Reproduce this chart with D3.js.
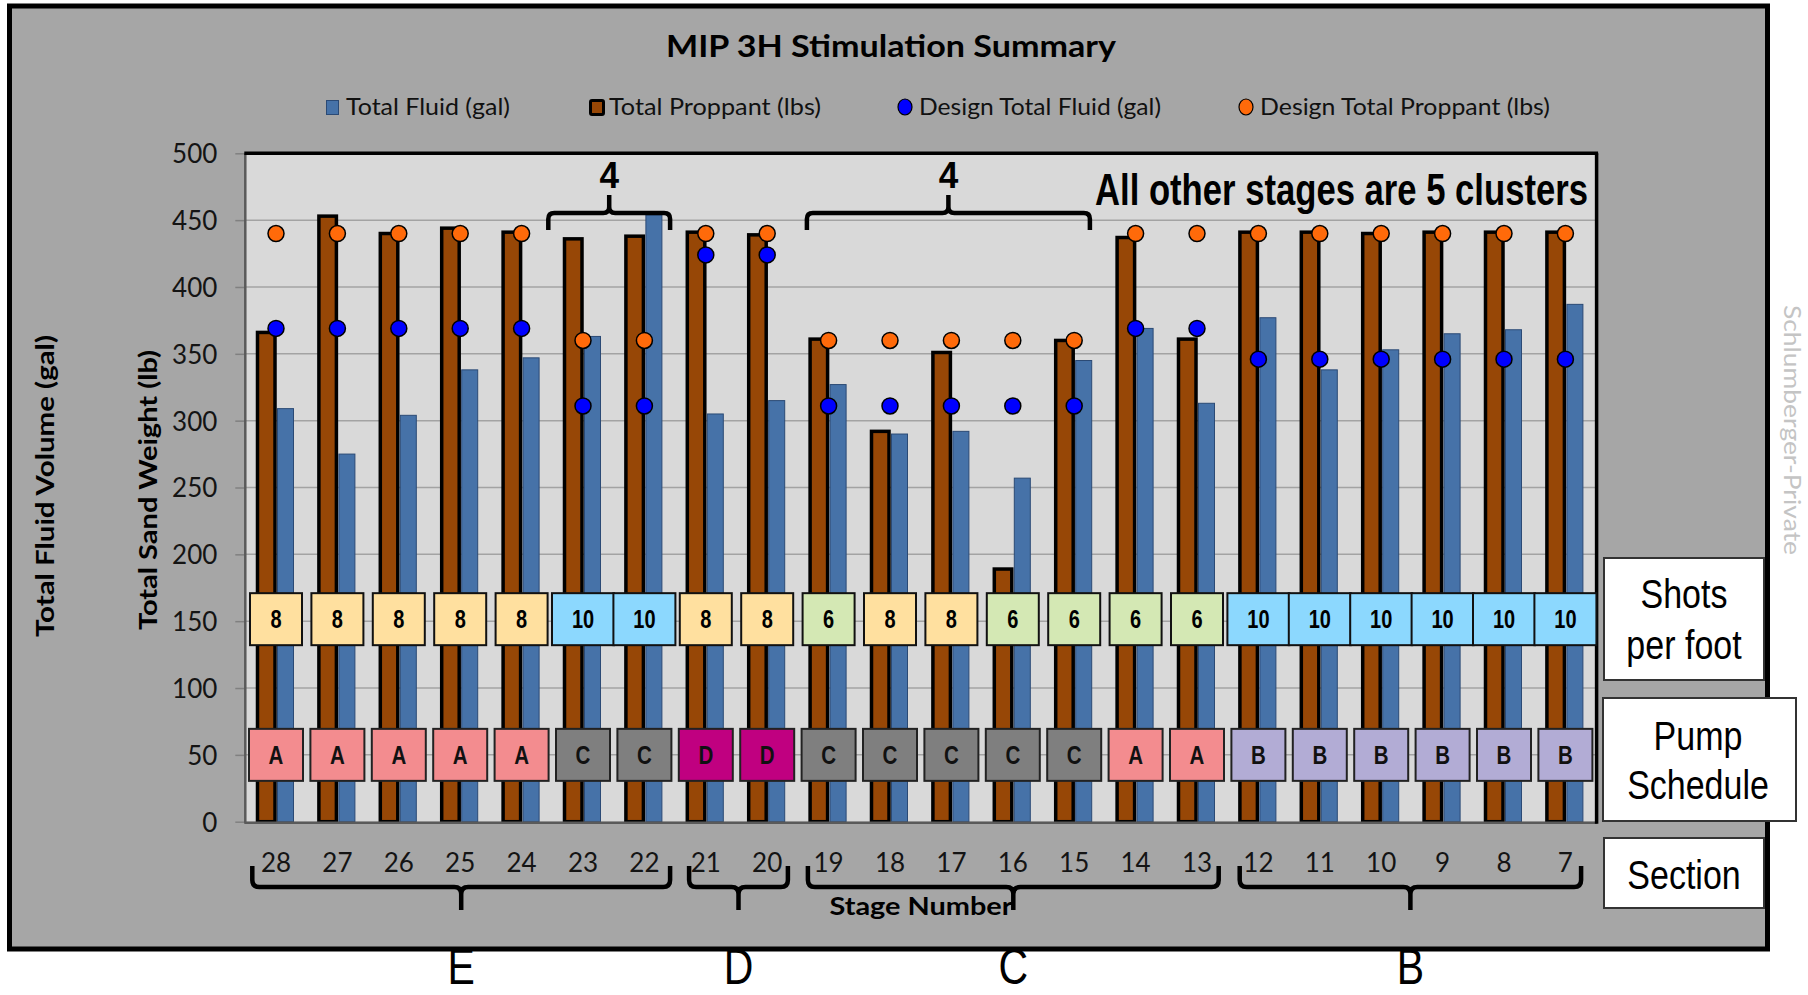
<!DOCTYPE html>
<html>
<head>
<meta charset="utf-8">
<script src="https://cdn.jsdelivr.net/npm/d3@7"></script>
<style>
  html, body { margin: 0; padding: 0; background: #ffffff; }
  svg { display: block; }
</style>
</head>
<body>
<svg id="chart" width="1808" height="995"></svg>
<script>
// ---------------- DATA ----------------
const stages = [28, 27, 26, 25, 24, 23, 22, 21, 20, 19, 18, 17, 16, 15, 14, 13, 12, 11, 10, 9, 8, 7];
const totalFluid = [309, 275, 304, 338, 347, 363, 454, 305, 315, 327, 290, 292, 257, 345, 369, 313, 377, 338, 353, 365, 368, 387];
const totalProppant = [366, 453, 440, 444, 441, 436, 438, 441, 439, 361, 292, 351, 189, 360, 437, 361, 441, 441, 440, 441, 441, 441];
const designFluid = [369, 369, 369, 369, 369, 311, 311, 424, 424, 311, 311, 311, 311, 311, 369, 369, 346, 346, 346, 346, 346, 346];
const designProppant = [440, 440, 440, 440, 440, 360, 360, 440, 440, 360, 360, 360, 360, 360, 440, 440, 440, 440, 440, 440, 440, 440];
const shotsPerFoot = [8, 8, 8, 8, 8, 10, 10, 8, 8, 6, 8, 8, 6, 6, 6, 6, 10, 10, 10, 10, 10, 10];
const pumpSchedule = ["A", "A", "A", "A", "A", "C", "C", "D", "D", "C", "C", "C", "C", "C", "A", "A", "B", "B", "B", "B", "B", "B"];
const sections = [
  { name: "E", from: 28, to: 22 },
  { name: "D", from: 21, to: 20 },
  { name: "C", from: 19, to: 13 },
  { name: "B", from: 12, to: 7 }
];
const clusterNotes = [
  { label: "4", from: 23, to: 22 },
  { label: "4", from: 19, to: 15 }
];
const yTicks = [0, 50, 100, 150, 200, 250, 300, 350, 400, 450, 500];
const seriesNames = ["Total Fluid (gal)", "Total Proppant (lbs)", "Design Total Fluid (gal)", "Design Total Proppant (lbs)"];
const titleText = "MIP 3H Stimulation Summary";
const noteText = "All other stages are 5 clusters";

// ---------------- STYLE ----------------
const C = {
  panel: "#a6a6a6", plot: "#d9d9d9", grid: "#a3a3a3",
  fluid: "#4672a8", fluidStroke: "#2b4a75",
  prop: "#974706", dotFluid: "#0000ff", dotProp: "#ff6a0a"
};
const shotColor = { 8: "#ffe09f", 10: "#8cd8fe", 6: "#d4e8b4" };
const pumpColor = { A: "#f38c8f", B: "#b2acd5", C: "#7f7f7f", D: "#c00080" };
const SANS = "Lato, 'Open Sans', sans-serif";
const ARIAL = "'Liberation Sans', Arial, sans-serif";

const svg = d3.select("#chart");

// condensed text helper (horizontal squeeze to mimic a narrow face)
function narrowText(parent, tx, ty, str, size, weight, sx) {
  return parent.append("text")
    .attr("transform", `translate(${tx},${ty}) scale(${sx},1)`)
    .attr("text-anchor", "middle").attr("font-family", ARIAL)
    .attr("font-weight", weight).attr("font-size", size).attr("fill", "#000").text(str);
}

// panel
svg.append("rect").attr("x", 9.5).attr("y", 6).attr("width", 1758).attr("height", 943)
  .attr("fill", C.panel).attr("stroke", "#000").attr("stroke-width", 5);

// title
svg.append("text").attr("x", 891).attr("y", 57).attr("text-anchor", "middle")
  .attr("font-family", SANS).attr("font-weight", "bold").attr("font-size", 30)
  .attr("textLength", 450).attr("lengthAdjust", "spacingAndGlyphs")
  .text(titleText);

// legend
const legendItems = [
  { name: seriesNames[0], type: "sq", fill: C.fluid, stroke: C.fluidStroke, mx: 326, tx: 346, tl: 164 },
  { name: seriesNames[1], type: "sqb", fill: C.prop, stroke: "#000", mx: 589, tx: 609, tl: 212 },
  { name: seriesNames[2], type: "dot", fill: C.dotFluid, mx: 905, tx: 919, tl: 242 },
  { name: seriesNames[3], type: "dot", fill: C.dotProp, mx: 1246, tx: 1260, tl: 290 }
];
const lg = svg.append("g");
legendItems.forEach(d => {
  if (d.type === "sq") {
    lg.append("rect").attr("x", d.mx + 0.5).attr("y", 100.5).attr("width", 12).attr("height", 14)
      .attr("fill", d.fill).attr("stroke", d.stroke).attr("stroke-width", 1);
  } else if (d.type === "sqb") {
    lg.append("rect").attr("x", d.mx + 1.5).attr("y", 100.5).attr("width", 13).attr("height", 14).attr("rx", 1.5)
      .attr("fill", d.fill).attr("stroke", d.stroke).attr("stroke-width", 3);
  } else {
    lg.append("ellipse").attr("cx", d.mx).attr("cy", 107).attr("rx", 7).attr("ry", 8)
      .attr("fill", d.fill).attr("stroke", "#000").attr("stroke-width", 1.2);
  }
  lg.append("text").attr("x", d.tx).attr("y", 114.5)
    .attr("font-family", SANS).attr("font-size", 23).attr("fill", "#111")
    .attr("textLength", d.tl).attr("lengthAdjust", "spacingAndGlyphs").text(d.name);
});

// scales
const plotL = 245.3, plotR = 1596.1, plotT = 153.3, plotB = 821.7;
const x = d3.scaleBand().domain(stages).range([plotL, plotR]).padding(0);
const y = d3.scaleLinear().domain([0, 500]).range([plotB, plotT]);
const cx = s => x(s) + x.bandwidth() / 2;

// plot background
svg.append("rect").attr("x", plotL).attr("y", plotT).attr("width", plotR - plotL).attr("height", plotB - plotT)
  .attr("fill", C.plot);

// gridlines
svg.append("g").selectAll("line").data(yTicks.filter(v => v > 0 && v < 500)).join("line")
  .attr("x1", plotL).attr("x2", plotR).attr("y1", d => y(d)).attr("y2", d => y(d))
  .attr("stroke", C.grid).attr("stroke-width", 1.5);

// y axis
const yAxis = svg.append("g").attr("transform", `translate(${plotL},0)`)
  .call(d3.axisLeft(y).tickValues(yTicks).tickSize(10).tickPadding(18));
yAxis.select(".domain").remove();
yAxis.selectAll(".tick line").attr("stroke", "#808080").attr("stroke-width", 1.5);
yAxis.selectAll(".tick text").attr("font-family", SANS).attr("font-size", 26).attr("fill", "#141414")
  .attr("dy", "0.36em");

// bars
const idx = d3.range(stages.length);
svg.append("g").selectAll("rect").data(idx).join("rect")
  .attr("x", i => cx(stages[i]) - 18.5).attr("width", 17.5)
  .attr("y", i => y(totalProppant[i])).attr("height", i => plotB - y(totalProppant[i]))
  .attr("fill", C.prop).attr("stroke", "#000").attr("stroke-width", 3.5);
svg.append("g").selectAll("rect").data(idx).join("rect")
  .attr("x", i => cx(stages[i]) + 1.5).attr("width", 16)
  .attr("y", i => y(totalFluid[i])).attr("height", i => plotB - y(totalFluid[i]))
  .attr("fill", C.fluid).attr("stroke", C.fluidStroke).attr("stroke-width", 1);

// plot frame
svg.append("line").attr("x1", plotL).attr("x2", plotL).attr("y1", plotT).attr("y2", plotB + 1)
  .attr("stroke", "#5a5a5a").attr("stroke-width", 2.5);
svg.append("line").attr("x1", plotL - 1).attr("x2", plotR + 1).attr("y1", plotB + 1).attr("y2", plotB + 1)
  .attr("stroke", "#5a5a5a").attr("stroke-width", 2.5);
svg.append("line").attr("x1", plotL - 1).attr("x2", plotR + 2).attr("y1", plotT).attr("y2", plotT)
  .attr("stroke", "#000").attr("stroke-width", 3.5);
svg.append("line").attr("x1", plotR + 0.5).attr("x2", plotR + 0.5).attr("y1", plotT).attr("y2", plotB + 2)
  .attr("stroke", "#000").attr("stroke-width", 3.5);

// design dots
svg.append("g").selectAll("circle").data(idx).join("circle")
  .attr("cx", i => cx(stages[i])).attr("cy", i => y(designFluid[i])).attr("r", 8)
  .attr("fill", C.dotFluid).attr("stroke", "#000").attr("stroke-width", 1.5);
svg.append("g").selectAll("circle").data(idx).join("circle")
  .attr("cx", i => cx(stages[i])).attr("cy", i => y(designProppant[i])).attr("r", 8)
  .attr("fill", C.dotProp).attr("stroke", "#000").attr("stroke-width", 1.5);

// shots per foot boxes
const shotRowY = y(151.5), pumpRowY = y(50);
const sg = svg.append("g");
idx.forEach(i => {
  const v = shotsPerFoot[i];
  const w = String(v).length > 1 ? 62 : 52;
  sg.append("rect").attr("x", cx(stages[i]) - w / 2).attr("y", shotRowY - 26).attr("width", w).attr("height", 52)
    .attr("fill", shotColor[v]).attr("stroke", "#111").attr("stroke-width", 2);
  narrowText(sg, cx(stages[i]), shotRowY + 9, v, 25, "bold", 0.8);
});
// pump schedule boxes
idx.forEach(i => {
  const v = pumpSchedule[i];
  sg.append("rect").attr("x", cx(stages[i]) - 27).attr("y", pumpRowY - 26).attr("width", 54).attr("height", 52)
    .attr("fill", pumpColor[v]).attr("stroke", "#222").attr("stroke-width", 2);
  narrowText(sg, cx(stages[i]), pumpRowY + 9, v, 25, "bold", 0.82).attr("fill", "#111");
});

// top cluster brackets
const bracketInset = [[-4, -5], [9, -15]];
const bg = svg.append("g").attr("fill", "none").attr("stroke", "#000").attr("stroke-width", 4.5)
  .attr("stroke-linecap", "butt");
clusterNotes.forEach((n, k) => {
  const x0 = x(n.from) + bracketInset[k][0], x1 = x(n.to) + x.bandwidth() + bracketInset[k][1], xm = (x0 + x1) / 2;
  const yh = 213, ye = 230, yn = 195, r = 6;
  bg.append("path").attr("d",
    `M${x0},${ye} L${x0},${yh + r} Q${x0},${yh} ${x0 + r},${yh} L${xm - r},${yh} Q${xm},${yh} ${xm},${yh - r} L${xm},${yn}` +
    ` M${xm},${yh - r} Q${xm},${yh} ${xm + r},${yh} L${x1 - r},${yh} Q${x1},${yh} ${x1},${yh + r} L${x1},${ye}`);
  narrowText(svg, xm, 188, n.label, 37, "bold", 0.95);
});
svg.append("text").attr("x", 1095).attr("y", 205)
  .attr("font-family", ARIAL).attr("font-weight", "bold").attr("font-size", 44)
  .attr("textLength", 493).attr("lengthAdjust", "spacingAndGlyphs").text(noteText);

// stage labels (x axis)
const xAxis = svg.append("g").attr("transform", `translate(0,${plotB})`)
  .call(d3.axisBottom(x).tickSize(0).tickPadding(0));
xAxis.select(".domain").remove();
xAxis.selectAll(".tick text").attr("font-family", SANS).attr("font-size", 26).attr("fill", "#141414")
  .attr("y", 50).attr("dy", 0);

// section braces
const sectionInset = [[7, -5], [14, -10], [10, -9], [12, -15]];
const brg = svg.append("g").attr("fill", "none").attr("stroke", "#000").attr("stroke-width", 4.5);
sections.forEach((s, k) => {
  const x0 = x(s.from) + sectionInset[k][0], x1 = x(s.to) + x.bandwidth() + sectionInset[k][1], xm = (x0 + x1) / 2;
  const yt = 866, yh = 887, yn = 910, r = 7;
  brg.append("path").attr("d",
    `M${x0},${yt} L${x0},${yh - r} Q${x0},${yh} ${x0 + r},${yh} L${xm - r},${yh} Q${xm},${yh} ${xm},${yh + r} L${xm},${yn}` +
    ` M${xm},${yh + r} Q${xm},${yh} ${xm + r},${yh} L${x1 - r},${yh} Q${x1},${yh} ${x1},${yh - r} L${x1},${yt}`);
  narrowText(svg, xm, 984, s.name, 50, "normal", 0.82);
});

// x axis title
svg.append("text").attr("x", 921).attr("y", 915).attr("text-anchor", "middle")
  .attr("font-family", SANS).attr("font-weight", "bold").attr("font-size", 24)
  .attr("textLength", 183).attr("lengthAdjust", "spacingAndGlyphs").text("Stage Number");

// y axis titles
svg.append("text").attr("transform", "translate(54,486) rotate(-90)").attr("text-anchor", "middle")
  .attr("font-family", SANS).attr("font-weight", "bold").attr("font-size", 24)
  .attr("textLength", 302).attr("lengthAdjust", "spacingAndGlyphs").text("Total Fluid Volume (gal)");
svg.append("text").attr("transform", "translate(157,490) rotate(-90)").attr("text-anchor", "middle")
  .attr("font-family", SANS).attr("font-weight", "bold").attr("font-size", 24)
  .attr("textLength", 280).attr("lengthAdjust", "spacingAndGlyphs").text("Total Sand Weight (lb)");

// right side label boxes
const sideBoxes = [
  { x: 1604, y: 558, w: 160, h: 122, lines: ["Shots", "per foot"], base: [608, 659], cx: 1684 },
  { x: 1603, y: 698, w: 193, h: 123, lines: ["Pump", "Schedule"], base: [750, 799], cx: 1698 },
  { x: 1604, y: 838, w: 160, h: 70, lines: ["Section"], base: [889], cx: 1684 }
];
sideBoxes.forEach(b => {
  svg.append("rect").attr("x", b.x).attr("y", b.y).attr("width", b.w).attr("height", b.h)
    .attr("fill", "#fff").attr("stroke", "#333").attr("stroke-width", 2);
  b.lines.forEach((t, k) => narrowText(svg, b.cx, b.base[k], t, 40, "normal", 0.85));
});

// watermark
svg.append("text").attr("transform", "translate(1784,305) rotate(90)")
  .attr("font-family", SANS).attr("font-size", 24).attr("fill", "#c4c4c4")
  .attr("textLength", 250).attr("lengthAdjust", "spacingAndGlyphs").text("Schlumberger-Private");
</script>
</body>
</html>
